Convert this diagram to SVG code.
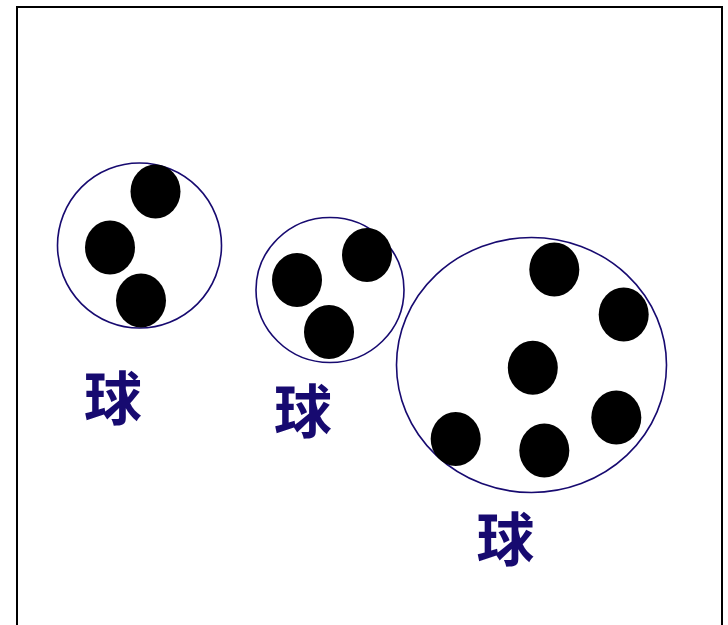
<svg xmlns="http://www.w3.org/2000/svg" width="728" height="625" viewBox="0 0 728 625">
<style>
.frame{fill:#fff;stroke:#000;stroke-width:2}
.cl{fill:none;stroke:#170a70;stroke-width:1.6}
.b{fill:#000}
.t{font-family:"Noto Sans CJK SC","Noto Sans CJK JP",sans-serif;font-weight:bold;font-size:58px;fill:#170a70;text-anchor:middle}
</style>
<rect class="frame" x="17" y="7" width="705" height="640"/>
<g id="cluster1">
<ellipse class="cl" cx="139.5" cy="245.5" rx="82" ry="82.5"/>
<ellipse class="b" cx="155.5" cy="191.5" rx="25" ry="27"/>
<ellipse class="b" cx="110" cy="247.5" rx="25" ry="27"/>
<ellipse class="b" cx="141" cy="300.5" rx="25" ry="27"/>
<text class="t" x="113" y="420">球</text>
</g>
<g id="cluster2">
<ellipse class="cl" cx="330" cy="290" rx="74" ry="72.5"/>
<ellipse class="b" cx="367" cy="255" rx="25" ry="27"/>
<ellipse class="b" cx="297" cy="280" rx="25" ry="27"/>
<ellipse class="b" cx="329" cy="332" rx="25" ry="27"/>
<text class="t" x="303" y="433">球</text>
</g>
<g id="cluster3">
<ellipse class="cl" cx="531.5" cy="365" rx="135" ry="127.5"/>
<ellipse class="b" cx="554.3" cy="269.5" rx="25" ry="27"/>
<ellipse class="b" cx="623.7" cy="314.5" rx="25" ry="27"/>
<ellipse class="b" cx="532.8" cy="367.8" rx="25" ry="27"/>
<ellipse class="b" cx="616.3" cy="417.5" rx="25" ry="27"/>
<ellipse class="b" cx="455.7" cy="439" rx="25" ry="27"/>
<ellipse class="b" cx="544.3" cy="450.5" rx="25" ry="27"/>
<text class="t" x="505.5" y="561">球</text>
</g>
<g id="connectors"/>
</svg>
